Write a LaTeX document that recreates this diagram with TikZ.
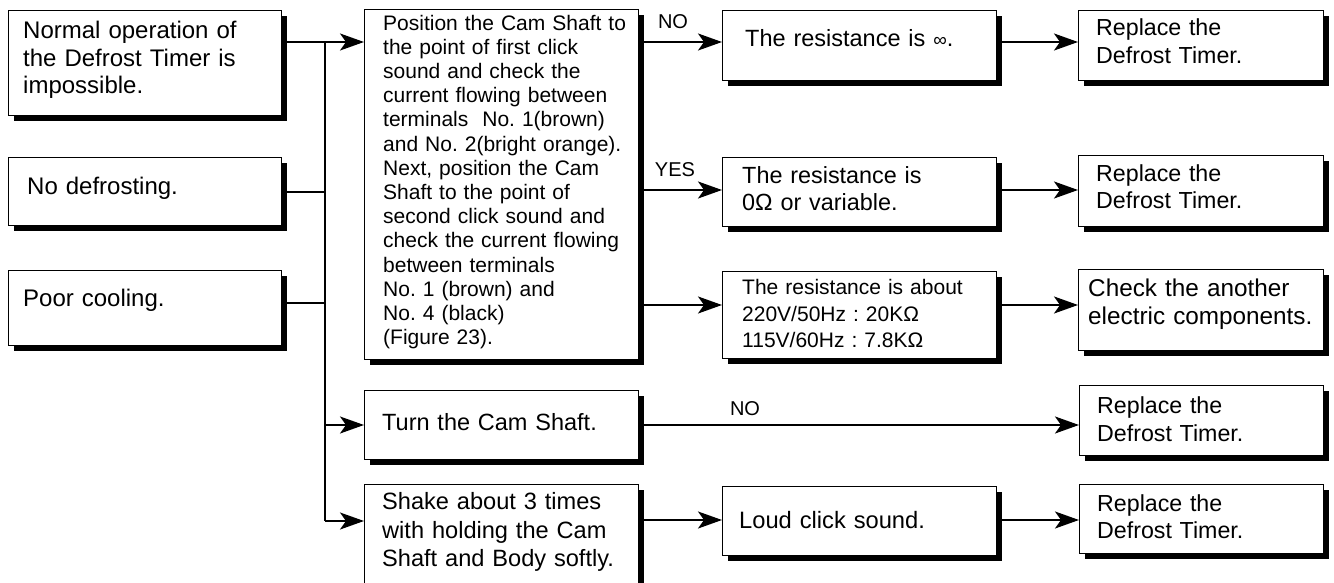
\documentclass[tikz,border=0pt]{standalone}
\usepackage{fontspec}
\setmainfont{Liberation Sans}
\usetikzlibrary{arrows.meta,shadows}
\frenchspacing
\begin{document}
\begin{tikzpicture}[x=1pt,y=-1pt,
  box/.style={draw=black, line width=0.9pt, fill=white, inner sep=0pt, anchor=north west,
    drop shadow={shadow xshift=5.5pt, shadow yshift=-5.5pt, fill=black, opacity=1}},
  txt/.style={anchor=west, inner sep=0pt, align=left},
  conn/.style={line width=1.8pt},
  arr/.style={line width=1.8pt, -{Stealth[length=24pt,width=17pt,inset=6pt]}},
  lab/.style={inner sep=0pt, font=\fontsize{20}{22}\selectfont}
]
\useasboundingbox (0,0) rectangle (1334,583);

% column 1
\node[box, minimum width=273pt, minimum height=105pt] (A) at (8,10) {};
\node[txt, text width=250pt, font=\fontsize{24}{27.5}\selectfont] (tA) at (23,60)
  {Normal operation of\\the Defrost Timer is\\impossible.};
\node[box, minimum width=273pt, minimum height=68pt] (B) at (8,157) {};
\node[txt, text width=250pt, font=\fontsize{24}{27.5}\selectfont] (tB) at (27,188) {No defrosting.};
\node[box, minimum width=273pt, minimum height=75pt] (C) at (8,270) {};
\node[txt, text width=250pt, font=\fontsize{24}{27.5}\selectfont] (tC) at (23,300) {Poor cooling.};

% column 2
\node[box, minimum width=274pt, minimum height=350pt] (P) at (364,9) {};
\node[txt, text width=250pt, font=\fontsize{21}{24.2}\selectfont] (tP) at (383,182)
  {Position the Cam Shaft to\\the point of first click\\sound and check the\\current flowing between\\terminals\ \ No. 1(brown)\\and No. 2(bright orange).\\Next, position the Cam\\Shaft to the point of\\second click sound and\\check the current flowing\\between terminals\\No. 1 (brown) and\\No. 4 (black)\\(Figure 23).};
\node[box, minimum width=274pt, minimum height=69pt] (T) at (364,390) {};
\node[txt, text width=250pt, font=\fontsize{23.5}{27.5}\selectfont] (tT) at (382,422) {Turn the Cam Shaft.};
\node[box, minimum width=274pt, minimum height=130pt] (S) at (364,484) {};
\node[txt, text width=250pt, font=\fontsize{23.6}{28.5}\selectfont] (tS) at (382,532)
  {Shake about 3 times\\with holding the Cam\\Shaft and Body softly.};

% column 3
\node[box, minimum width=274pt, minimum height=70pt] (R1) at (722,10) {};
\node[txt, text width=245pt, font=\fontsize{23.5}{27.5}\selectfont] (tR1) at (745,38) {The resistance is {\fontsize{19}{19}\selectfont ∞}.};
\node[box, minimum width=274pt, minimum height=69pt] (R2) at (722,157) {};
\node[txt, text width=245pt, font=\fontsize{23.4}{27}\selectfont] (tR2) at (742,188.5)
  {The resistance is\\0Ω or variable.};
\node[box, minimum width=274pt, minimum height=87pt] (R3) at (722,271) {};
\node[txt, text width=245pt, font=\fontsize{21}{26.5}\selectfont] (tR3) at (742,313.5)
  {The resistance is about\\220V/50Hz : 20KΩ\\115V/60Hz : 7.8KΩ};
\node[box, minimum width=274pt, minimum height=69pt] (L) at (722,486) {};
\node[txt, text width=245pt, font=\fontsize{23.7}{27.5}\selectfont] (tL) at (739,520) {Loud click sound.};

% column 4
\node[box, minimum width=245pt, minimum height=70pt] (Q1) at (1078,10) {};
\node[txt, text width=220pt, font=\fontsize{23.2}{27.5}\selectfont] (tQ1) at (1096,41)
  {Replace the\\Defrost Timer.};
\node[box, minimum width=245pt, minimum height=71pt] (Q2) at (1078,155) {};
\node[txt, text width=220pt, font=\fontsize{23.2}{27.5}\selectfont] (tQ2) at (1096,186.5)
  {Replace the\\Defrost Timer.};
\node[box, minimum width=245pt, minimum height=81pt] (K) at (1078,269) {};
\node[txt, text width=234pt, font=\fontsize{24.3}{28}\selectfont] (tK) at (1088,304)
  {Check the another\\electric components.};
\node[box, minimum width=244pt, minimum height=70pt] (Q3) at (1079,385) {};
\node[txt, text width=220pt, font=\fontsize{23.2}{27.5}\selectfont] (tQ3) at (1097,419)
  {Replace the\\Defrost Timer.};
\node[box, minimum width=244pt, minimum height=69pt] (Q4) at (1079,484) {};
\node[txt, text width=220pt, font=\fontsize{23.2}{27.5}\selectfont] (tQ4) at (1097,516.5)
  {Replace the\\Defrost Timer.};

% levels
\coordinate (j0) at (325,42);
\coordinate (j1) at (325,521);
\coordinate (hB) at (0,192);
\coordinate (hC) at (0,303);
\coordinate (hT) at (0,425);
\coordinate (h1) at (0,42);
\coordinate (h2) at (0,190);
\coordinate (h3) at (0,305);
\coordinate (hL) at (0,520);

% connectors
\draw[conn] (A.east |- j0) -- (j0) -- (j1);
\draw[conn] (B.east |- hB) -- (j0 |- hB);
\draw[conn] (C.east |- hC) -- (j0 |- hC);
\draw[arr] (j0) -- (P.west |- j0);
\draw[arr] (j0 |- hT) -- (T.west |- hT);
\draw[arr] (j1) -- (S.west |- j1);

\draw[arr] (P.east |- h1) -- (R1.west |- h1);
\draw[arr] (P.east |- h2) -- (R2.west |- h2);
\draw[arr] (P.east |- h3) -- (R3.west |- h3);
\draw[arr] (R1.east |- h1) -- (Q1.west |- h1);
\draw[arr] (R2.east |- h2) -- (Q2.west |- h2);
\draw[arr] (R3.east |- h3) -- (K.west |- h3);
\draw[arr] (T.east |- hT) -- (Q3.west |- hT);
\draw[arr] (S.east |- hL) -- (L.west |- hL);
\draw[arr] (L.east |- hL) -- (Q4.west |- hL);

% labels
\node[lab] (no1) at (673,22) {NO};
\node[lab] (yes) at (675,170) {YES};
\node[lab] (no2) at (745,409) {NO};
\end{tikzpicture}
\end{document}
